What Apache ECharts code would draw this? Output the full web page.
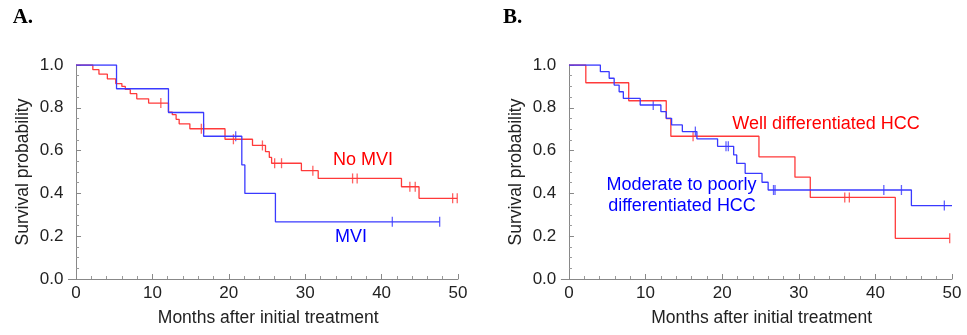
<!DOCTYPE html>
<html>
<head>
<meta charset="utf-8">
<script src="https://cdn.jsdelivr.net/npm/echarts@6/dist/echarts.min.js"></script>
<style>
  html, body { margin: 0; padding: 0; background: #fff; }
  #chart { width: 967px; height: 335px; }
</style>
</head>
<body>
<div id="chart"></div>
<script>
// Panel A: No MVI (red) / MVI (blue)
const timeA_noMvi = [0, 2.2, 3.0, 4.1, 5.2, 6.0, 6.45, 7.1, 7.95, 9.5, 12.1, 12.6, 13.1, 13.5, 14.9, 19.5, 23.1, 24.8, 25.3, 25.6, 29.5, 31.7, 42.6, 44.9, 49.9];
const survA_noMvi = [1, 0.978, 0.957, 0.935, 0.913, 0.900, 0.886, 0.866, 0.842, 0.822, 0.780, 0.768, 0.746, 0.725, 0.702, 0.653, 0.624, 0.595, 0.568, 0.541, 0.506, 0.470, 0.431, 0.377, 0.377];
const censA_noMvi = [11.1, 16.4, 16.7, 20.6, 24.4, 26.0, 26.9, 31.0, 36.2, 36.8, 43.7, 44.4, 49.3, 49.9];

const timeA_mvi = [0, 5.3, 12.1, 16.7, 21.7, 22.1, 26.1, 47.6];
const survA_mvi = [1, 0.889, 0.778, 0.667, 0.533, 0.400, 0.267, 0.267];
const censA_mvi = [20.9, 41.4, 47.6];

// Panel B: well differentiated (red) / moderate to poorly (blue)
const timeB_well = [0, 2.2, 7.8, 12.7, 13.3, 24.8, 29.5, 31.5, 42.6, 49.7];
const survB_well = [1, 0.917, 0.833, 0.750, 0.667, 0.571, 0.476, 0.381, 0.190, 0.190];
const censB_well = [16.2, 36.0, 36.6, 49.7];

const timeB_mod = [0, 4.1, 5.25, 5.9, 6.55, 7.1, 9.3, 12.0, 12.7, 13.4, 14.8, 16.7, 19.4, 21.5, 21.9, 23.0, 25.2, 26.0, 44.7, 50];
const survB_mod = [1, 0.969, 0.938, 0.906, 0.875, 0.844, 0.813, 0.782, 0.751, 0.720, 0.689, 0.655, 0.620, 0.580, 0.540, 0.494, 0.452, 0.416, 0.343, 0.343];
const censB_mod = [11.0, 16.5, 20.5, 20.8, 26.7, 26.9, 41.1, 43.4, 49.0];

const majorX = [0, 10, 20, 30, 40, 50];
const minorX = [2, 4, 6, 8, 12, 14, 16, 18, 22, 24, 26, 28, 32, 34, 36, 38, 42, 44, 46, 48];

const RED = '#ff3a3a';
const BLUE = '#3a3aff';
const FONT = '"Liberation Sans", Arial, sans-serif';

function survAt(t, s, x) {
  let v = s[0];
  for (let i = 0; i < t.length; i++) if (t[i] <= x) v = s[i];
  return v;
}

function curve(t, s, color, xi, yi) {
  return {
    type: 'line', step: 'end', xAxisIndex: xi, yAxisIndex: yi,
    data: t.map((v, i) => [v, s[i]]),
    showSymbol: false, silent: true,
    lineStyle: { color: color, width: 1.3 }
  };
}

function censors(c, t, s, color, xi, yi) {
  return {
    type: 'scatter', xAxisIndex: xi, yAxisIndex: yi,
    data: c.map(x => [x, survAt(t, s, x)]),
    symbol: 'rect', symbolSize: [1.3, 10], silent: true,
    itemStyle: { color: color }
  };
}

function xMain(grid) {
  return {
    type: 'value', gridIndex: grid, min: -1, max: 50, position: 'bottom',
    name: 'Months after initial treatment', nameLocation: 'middle', nameGap: 30,
    nameTextStyle: { fontSize: 17.5, color: '#222', fontFamily: FONT, padding: [0, 0, 0, 10] },
    axisLine: { lineStyle: { color: '#888', width: 1 } },
    axisTick: { inside: true, length: 5, customValues: majorX, lineStyle: { color: '#888' } },
    axisLabel: { customValues: majorX, fontSize: 17, color: '#222', fontFamily: FONT, margin: 6 },
    splitLine: { show: false }
  };
}

function xMinor(grid) {
  return {
    type: 'value', gridIndex: grid, min: -1, max: 50, position: 'bottom', offset: 0,
    axisLine: { show: false },
    axisTick: { inside: true, length: 3, customValues: minorX, lineStyle: { color: '#999' } },
    axisLabel: { show: false },
    splitLine: { show: false }
  };
}

function yMain(grid) {
  return {
    type: 'value', gridIndex: grid, min: 0, max: 1, interval: 0.2,
    name: 'Survival probability', nameLocation: 'middle', nameGap: 36,
    nameTextStyle: { fontSize: 17.5, color: '#222', fontFamily: FONT },
    axisLine: { show: true, lineStyle: { color: '#888', width: 1 } },
    axisTick: { show: true, inside: true, length: 5, lineStyle: { color: '#888' } },
    minorTick: { show: true, splitNumber: 4, length: 3, lineStyle: { color: '#999' } },
    axisLabel: { formatter: v => v.toFixed(1), fontSize: 17, color: '#222', fontFamily: FONT, margin: 5 },
    splitLine: { show: false }
  };
}

function label(text, x, y, color, align) {
  return {
    type: 'text', silent: true,
    style: { text: text, x: x, y: y, fill: color, font: '18px ' + FONT, textAlign: align || 'center', textVerticalAlign: 'middle' }
  };
}

const chart = echarts.init(document.getElementById('chart'), null, { renderer: 'canvas' });
chart.setOption({
  animation: false,
  backgroundColor: '#fff',
  grid: [
    { left: 68.4, top: 65, width: 389.6, height: 214 },
    { left: 561.3, top: 65, width: 390.7, height: 214 }
  ],
  xAxis: [xMain(0), xMinor(0), xMain(1), xMinor(1)],
  yAxis: [yMain(0), yMain(1)],
  series: [
    curve(timeA_noMvi, survA_noMvi, RED, 0, 0),
    censors(censA_noMvi, timeA_noMvi, survA_noMvi, RED, 0, 0),
    curve(timeA_mvi, survA_mvi, BLUE, 0, 0),
    censors(censA_mvi, timeA_mvi, survA_mvi, BLUE, 0, 0),
    curve(timeB_well, survB_well, RED, 2, 1),
    censors(censB_well, timeB_well, survB_well, RED, 2, 1),
    curve(timeB_mod, survB_mod, BLUE, 2, 1),
    censors(censB_mod, timeB_mod, survB_mod, BLUE, 2, 1)
  ],
  graphic: [
    { type: 'text', silent: true, style: { text: 'A.', x: 12.7, y: 17.5, fill: '#000', font: 'bold 21px "Liberation Serif", serif', textAlign: 'left', textVerticalAlign: 'middle' } },
    { type: 'text', silent: true, style: { text: 'B.', x: 503, y: 17.5, fill: '#000', font: 'bold 21px "Liberation Serif", serif', textAlign: 'left', textVerticalAlign: 'middle' } },
    label('No MVI', 363, 160, '#ff0000'),
    label('MVI', 351, 237.5, '#0000ff'),
    label('Well differentiated HCC', 826, 124.5, '#ff0000'),
    label('Moderate to poorly', 681.5, 185.5, '#0000ff'),
    label('differentiated HCC', 682, 206.5, '#0000ff')
  ]
});
</script>
</body>
</html>
